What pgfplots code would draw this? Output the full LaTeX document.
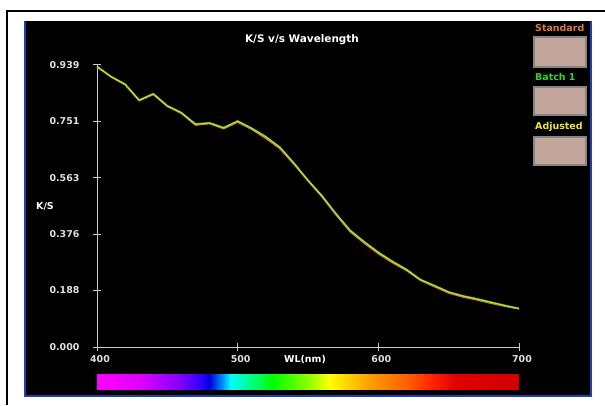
\documentclass[border=0pt]{standalone}
\usepackage{fontspec}
\setmainfont{DejaVu Sans}
\usepackage{pgfplots}
\pgfplotsset{compat=1.18}
\usepackage{xcolor}
\definecolor{panelblue}{HTML}{1E40B0}
\definecolor{axisgray}{HTML}{C8C8C8}
\definecolor{stdorange}{HTML}{E07A38}
\definecolor{batchgreen}{HTML}{2ED62E}
\definecolor{adjyellow}{HTML}{E8E83A}
\definecolor{swatch}{HTML}{C4A59C}
\definecolor{swatchedge}{HTML}{858585}

% spectrum for the wavelength strip (path maps to 25bp..75bp)
\pgfdeclarehorizontalshading{spectrum}{100bp}{
  color(0bp)=(magenta);
  color(25bp)=(magenta);
  color(30bp)=(rgb,1:red,0.88;green,0;blue,1);
  color(35bp)=(rgb,1:red,0.5;green,0;blue,1);
  color(37.5bp)=(rgb,1:red,0.15;green,0;blue,1);
  color(38.3bp)=(rgb,1:red,0;green,0;blue,0.82);
  color(39.7bp)=(rgb,1:red,0;green,0.5;blue,1);
  color(40.8bp)=(rgb,1:red,0;green,1;blue,1);
  color(43.3bp)=(rgb,1:red,0;green,1;blue,0.5);
  color(45.8bp)=(rgb,1:red,0;green,1;blue,0);
  color(50bp)=(rgb,1:red,0.55;green,1;blue,0);
  color(52.5bp)=(rgb,1:red,1;green,1;blue,0);
  color(55bp)=(rgb,1:red,1;green,0.8;blue,0);
  color(57.5bp)=(rgb,1:red,1;green,0.6;blue,0);
  color(61.7bp)=(rgb,1:red,1;green,0.38;blue,0);
  color(65bp)=(rgb,1:red,1;green,0.12;blue,0);
  color(67.5bp)=(rgb,1:red,0.88;green,0;blue,0);
  color(75bp)=(rgb,1:red,0.82;green,0;blue,0);
  color(100bp)=(rgb,1:red,0.82;green,0;blue,0)}

\newcommand{\lblfont}{\bfseries\fontsize{9.5}{11}\selectfont}

\begin{document}
\begin{tikzpicture}[x=1bp,y=1bp]
\useasboundingbox (0,0) rectangle (605,405);
\fill[white] (0,0) rectangle (605,405);
% outer frame
\draw[black, line width=2bp] (7,0) -- (7,394) -- (605,394);
% panel
\fill[panelblue] (24,8) rectangle (592,384);
\fill[black] (26,10.5) rectangle (590,384);

\begin{axis}[
    at={(97bp,58bp)}, anchor=south west,
    scale only axis,
    width=422bp, height=282bp,
    xmin=400, xmax=700, ymin=0, ymax=0.939,
    axis lines*=left,
    axis line style={axisgray, line width=1bp, -},
    xtick={400,500,600,700},
    ytick={0,0.188,0.376,0.563,0.751,0.939},
    yticklabels={0.000,0.188,0.376,0.563,0.751,0.939},
    tick align=center,
    major tick length=8bp,
    tick style={axisgray, line width=1bp},
    /pgf/number format/assume math mode=true,
    tick label style={font=\lblfont, text=white!88!black},
    yticklabel style={xshift=-10bp},
    xticklabel style={yshift=-1bp, xshift=3bp},
    clip=false,
]
\addplot[stdorange, line width=1.6bp] coordinates {
(400,0.933) (410,0.899) (420,0.873) (430,0.820) (440,0.841) (450,0.801)
(460,0.778) (470,0.739) (480,0.744) (490,0.727) (500,0.749) (510,0.725)
(520,0.695) (530,0.661) (540,0.609) (550,0.553) (560,0.500) (570,0.440)
(580,0.384) (590,0.346) (600,0.311) (610,0.281) (620,0.255) (630,0.222)
(640,0.201) (650,0.180) (660,0.167) (670,0.157) (680,0.146) (690,0.136)
(700,0.127)};
\addplot[batchgreen, line width=1.3bp] coordinates {
(400,0.935) (410,0.901) (420,0.876) (430,0.823) (440,0.844) (450,0.804)
(460,0.781) (470,0.743) (480,0.747) (490,0.731) (500,0.753) (510,0.729)
(520,0.701) (530,0.666) (540,0.613) (550,0.556) (560,0.504) (570,0.444)
(580,0.389) (590,0.351) (600,0.316) (610,0.286) (620,0.259) (630,0.225)
(640,0.205) (650,0.184) (660,0.171) (670,0.161) (680,0.150) (690,0.139)
(700,0.129)};
\addplot[adjyellow!85!batchgreen, line width=0.8bp] coordinates {
(400,0.934) (410,0.900) (420,0.875) (430,0.822) (440,0.843) (450,0.803)
(460,0.780) (470,0.742) (480,0.746) (490,0.730) (500,0.752) (510,0.728)
(520,0.700) (530,0.665) (540,0.612) (550,0.555) (560,0.503) (570,0.443)
(580,0.388) (590,0.350) (600,0.315) (610,0.285) (620,0.258) (630,0.224)
(640,0.204) (650,0.183) (660,0.170) (670,0.160) (680,0.149) (690,0.138)
(700,0.128)};
\end{axis}

% labels
\node[text=white, font=\bfseries\fontsize{10.5}{12}\selectfont] at (302,365) {K/S v/s Wavelength};
\node[text=white, font=\lblfont] at (45,199) {K/S};
\node[text=white, font=\lblfont] at (305,45) {WL(nm)};

% wavelength strip
\shade[shading=spectrum] (97,16) rectangle (519,31);

% legend swatches
\node[anchor=west, text=stdorange, font=\lblfont, inner sep=0pt] at (535,377) {Standard};
\filldraw[fill=swatch, draw=swatchedge, line width=1.5bp] (534,368) rectangle (586,338);
\node[anchor=west, text=batchgreen, font=\lblfont, inner sep=0pt] at (535,328) {Batch 1};
\filldraw[fill=swatch, draw=swatchedge, line width=1.5bp] (534,318) rectangle (586,290);
\node[anchor=west, text=adjyellow, font=\lblfont, inner sep=0pt] at (535,278) {Adjusted};
\filldraw[fill=swatch, draw=swatchedge, line width=1.5bp] (534,268) rectangle (586,240);
\end{tikzpicture}
\end{document}
